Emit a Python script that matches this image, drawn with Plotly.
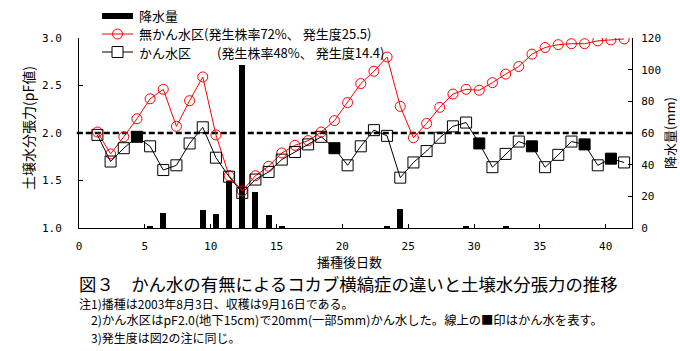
import plotly.graph_objects as go

# ---- data ----
days = list(range(1, 42))
pf_no_irrig = [2.01, 1.78, 1.96, 2.15, 2.36, 2.46, 2.07, 2.34, 2.59, 1.98,
               1.55, 1.39, 1.55, 1.65, 1.79, 1.87, 1.92, 2.01, 2.13, 2.32,
               2.52, 2.65, 2.80, 2.28, 1.95, 2.10, 2.27, 2.41, 2.46, 2.45,
               2.53, 2.62, 2.70, 2.83, 2.90, 2.93, 2.94, 2.94, 2.97, 2.98, 2.99]
pf_irrig = [1.98, 1.70, 1.84, 1.96, 1.86, 1.61, 1.66, 1.89, 2.06, 1.74,
            1.54, 1.37, 1.51, 1.59, 1.72, 1.80, 1.88, 1.96, 1.84, 1.66,
            1.86, 2.03, 1.97, 1.53, 1.69, 1.81, 1.95, 2.07, 2.11, 1.89,
            1.64, 1.78, 1.91, 1.86, 1.64, 1.77, 1.91, 1.88, 1.66, 1.73, 1.69]
rain = [0, 0, 0, 0, 1.5, 9.5, 0, 0, 11.5, 9,
        29.5, 103, 23, 8, 1, 0, 0, 0, 0, 0,
        0, 0, 0.8, 12, 0, 0, 0, 0, 0.8, 0,
        0, 0.8, 0, 0, 0, 0, 0, 0, 0, 0, 0]
irrigation_days = [4, 19, 30, 34, 38, 40]

name_rain = "降水量"
name_no = "無かん水区(発生株率72%、 発生度25.5)"
name_yes = "かん水区　　(発生株率48%、 発生度14.4)"

xpos = [d + 0.4 for d in days]
irr_x = [d + 0.4 for d in irrigation_days]
irr_y = [pf_irrig[days.index(d)] for d in irrigation_days]

JP = "Noto Sans CJK JP"
MONO = "DejaVu Sans Mono"
RED = "#ff0000"

fig = go.Figure()

# bars on base axis (drawn underneath)
fig.add_trace(go.Bar(x=xpos, y=rain, yaxis="y", marker=dict(color="black", line=dict(width=0)),
                     width=0.45, showlegend=False, name=name_rain))
fig.add_trace(go.Scatter(x=xpos, y=pf_no_irrig, yaxis="y2", mode="lines+markers", name=name_no,
                         line=dict(color=RED, width=1), showlegend=False,
                         marker=dict(symbol="circle-open", size=10, color=RED, line=dict(width=1))))
fig.add_trace(go.Scatter(x=xpos, y=pf_irrig, yaxis="y2", mode="lines+markers", name=name_yes,
                         line=dict(color="black", width=1), showlegend=False,
                         marker=dict(symbol="square-open", size=11, color="black", line=dict(width=1))))
fig.add_trace(go.Scatter(x=irr_x, y=irr_y, yaxis="y2", mode="markers", showlegend=False,
                         marker=dict(symbol="square", size=11, color="black", line=dict(width=0))))

L, R, T, B = 79, 48, 38, 123
W, H = 680, 351
pw, ph = W - L - R, H - T - B


def px(xp):
    return (xp - L) / pw


def py(yp):
    return (H - B - yp) / ph


shapes = [
    dict(type="line", xref="paper", yref="y2", x0=-0.004, x1=1, y0=2.0, y1=2.0,
         line=dict(color="black", width=2.5, dash="6px,3px"), layer="below"),
    # manual legend swatches
    dict(type="rect", xref="paper", yref="paper", x0=px(102), x1=px(133), y0=py(13), y1=py(19),
         fillcolor="black", line=dict(width=0)),
    dict(type="line", xref="paper", yref="paper", x0=px(102), x1=px(133), y0=py(34), y1=py(34),
         line=dict(color=RED, width=1)),
    dict(type="circle", xref="paper", yref="paper", x0=px(112.5), x1=px(122.5), y0=py(29), y1=py(39),
         line=dict(color=RED, width=1), fillcolor="rgba(0,0,0,0)"),
    dict(type="line", xref="paper", yref="paper", x0=px(102), x1=px(133), y0=py(52), y1=py(52),
         line=dict(color="black", width=1)),
    dict(type="rect", xref="paper", yref="paper", x0=px(112), x1=px(123), y0=py(46.5), y1=py(57.5),
         line=dict(color="black", width=1), fillcolor="white"),
]

annotations = [
    dict(text=name_rain, x=px(137), y=py(15), xanchor="left", font=dict(size=13)),
    dict(text=name_no, x=px(137), y=py(33.5), xanchor="left", font=dict(size=13)),
    dict(text=name_yes, x=px(137), y=py(52), xanchor="left", font=dict(size=13)),
    dict(text="土壌水分張力(pF値)", x=px(28), y=py(128), textangle=-90, font=dict(size=14)),
    dict(text="降水量(mm)", x=px(669), y=py(133), textangle=-90, font=dict(size=13)),
    dict(text="播種後日数", x=px(349), y=py(261), font=dict(size=13)),
    dict(text="図３　かん水の有無によるコカブ横縞症の違いと土壌水分張力の推移", x=px(77), y=py(283),
         xanchor="left", font=dict(size=17.4)),
    dict(text="注1)播種は2003年8月3日、収穫は9月16日である。", x=px(77), y=py(303),
         xanchor="left", font=dict(size=12)),
    dict(text="2)かん水区はpF2.0(地下15cm)で20mm(一部5mm)かん水した。線上の■印はかん水を表す。",
         x=px(89), y=py(320), xanchor="left", font=dict(size=12.3)),
    dict(text="3)発生度は図2の注に同じ。", x=px(89), y=py(337), xanchor="left", font=dict(size=12)),
]
for a in annotations:
    a.setdefault("xanchor", "center")
    a.update(xref="paper", yref="paper", showarrow=False, yanchor="middle")
    a["font"] = dict(family=JP, color="black", **a["font"])

fig.update_layout(
    width=W, height=H,
    margin=dict(l=L, r=R, t=T, b=B, autoexpand=False),
    paper_bgcolor="white", plot_bgcolor="white",
    bargap=0,
    font=dict(family=JP, color="black"),
    xaxis=dict(range=[0, 42], tickvals=[0, 5, 10, 15, 20, 25, 30, 35, 40],
               ticks="inside", ticklen=4, tickcolor="black", showline=True, linecolor="black",
               linewidth=1, showgrid=False, zeroline=False, ticklabelstandoff=8,
               tickfont=dict(family=MONO, size=11, color="black")),
    yaxis=dict(range=[0, 120], side="right", tickvals=[0, 20, 40, 60, 80, 100, 120],
               ticks="inside", ticklen=4, tickcolor="black", showline=True, linecolor="black",
               linewidth=1, showgrid=False, zeroline=False, ticklabelstandoff=6,
               tickfont=dict(family=MONO, size=11, color="black")),
    yaxis2=dict(range=[1, 3], side="left", overlaying="y", tickvals=[1.0, 1.5, 2.0, 2.5, 3.0],
                tickformat=".1f", ticks="inside", ticklen=4, tickcolor="black", showline=True,
                linecolor="black", linewidth=1, showgrid=False, zeroline=False, ticklabelstandoff=14,
                tickfont=dict(family=MONO, size=11, color="black")),
    shapes=shapes,
    annotations=annotations,
    showlegend=False,
)

fig.write_html("out.html")
